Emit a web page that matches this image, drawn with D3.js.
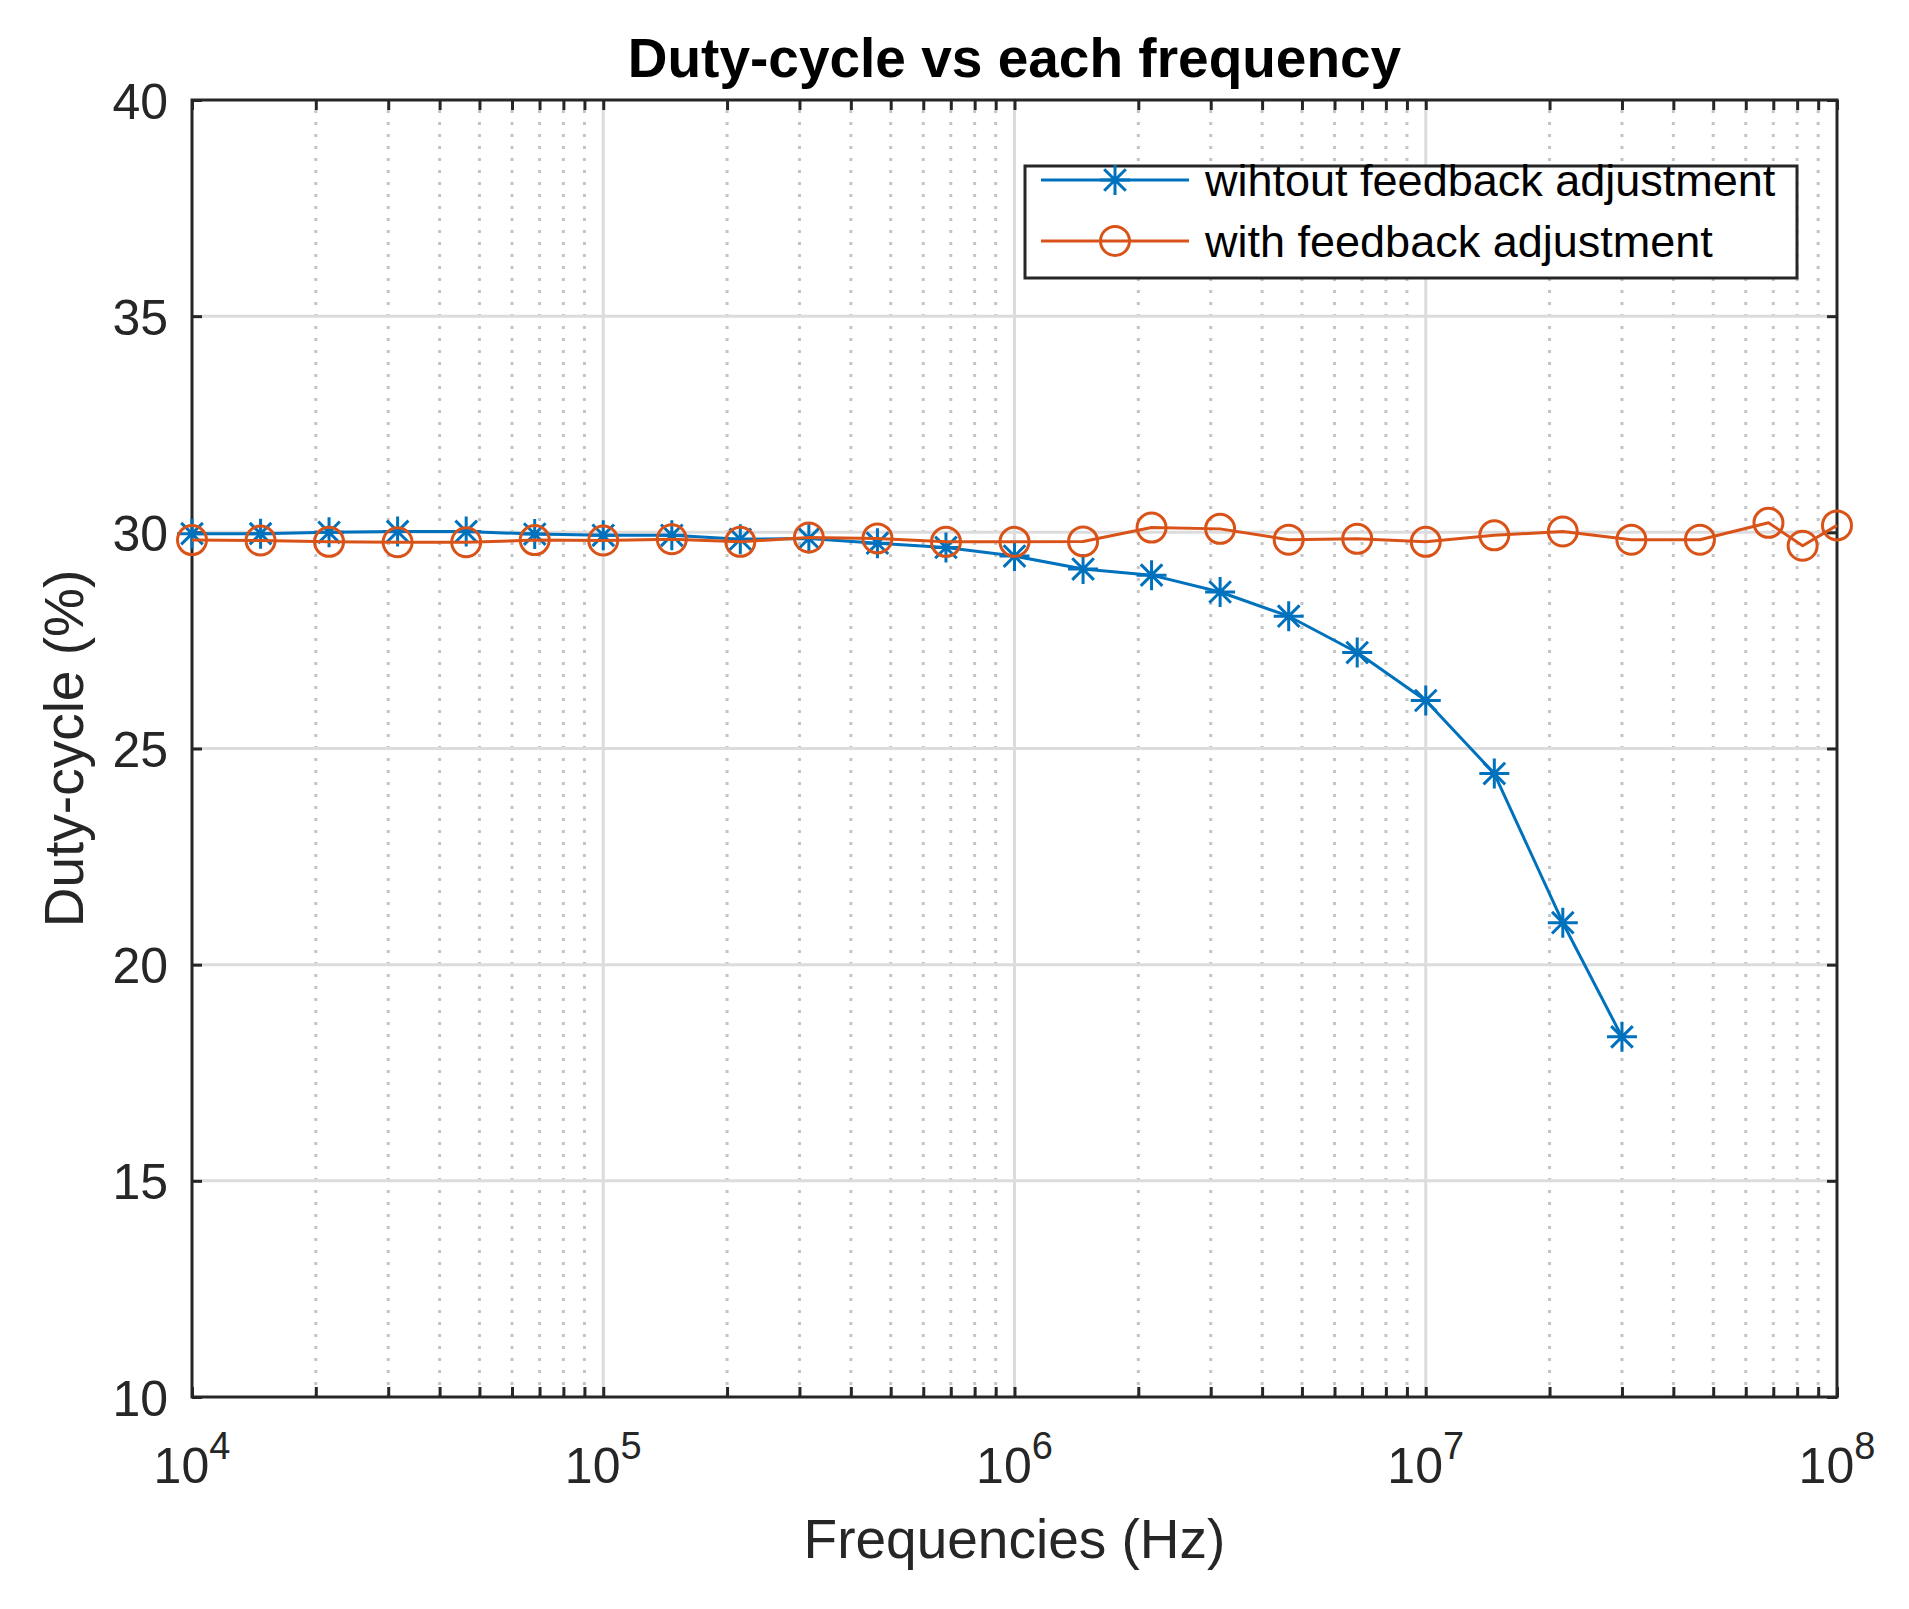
<!DOCTYPE html>
<html>
<head>
<meta charset="utf-8">
<script src="https://cdn.jsdelivr.net/npm/d3@7"></script>
<style>
  html, body { margin: 0; padding: 0; background: #fff; }
  text { font-family: "Liberation Sans", Arial, Helvetica, sans-serif; }
</style>
</head>
<body>
<svg id="chart" width="1909" height="1609"></svg>
<script>
// ---------------- data ----------------
const freqWithout = [1e4, 1.468e4, 2.154e4, 3.162e4, 4.642e4, 6.813e4,
                     1e5, 1.468e5, 2.154e5, 3.162e5, 4.642e5, 6.813e5,
                     1e6, 1.468e6, 2.154e6, 3.162e6, 4.642e6, 6.813e6,
                     1e7, 1.468e7, 2.154e7, 3e7];
const dutyWithout = [29.97, 29.97, 30.00, 30.02, 30.02, 29.96,
                     29.93, 29.93, 29.84, 29.86, 29.75, 29.65,
                     29.45, 29.15, 29.01, 28.62, 28.06, 27.22,
                     26.11, 24.42, 20.97, 18.33];

const freqWith = [1e4, 1.468e4, 2.154e4, 3.162e4, 4.642e4, 6.813e4,
                  1e5, 1.468e5, 2.154e5, 3.162e5, 4.642e5, 6.813e5,
                  1e6, 1.468e6, 2.154e6, 3.162e6, 4.642e6, 6.813e6,
                  1e7, 1.468e7, 2.154e7, 3.162e7, 4.642e7, 6.813e7,
                  8.25e7, 1e8];
const dutyWith = [29.82, 29.81, 29.78, 29.77, 29.77, 29.82,
                  29.81, 29.84, 29.78, 29.88, 29.86, 29.78,
                  29.78, 29.79, 30.11, 30.08, 29.83, 29.85,
                  29.78, 29.93, 30.02, 29.83, 29.83, 30.22,
                  29.69, 30.16];

const xMajorTicks = [1e4, 1e5, 1e6, 1e7, 1e8];
const xTickExponents = ["4", "5", "6", "7", "8"];
const yTicks = [10, 15, 20, 25, 30, 35, 40];
const seriesNames = ["wihtout feedback adjustment", "with feedback adjustment"];
const titleText = "Duty-cycle vs each frequency";
const xLabelText = "Frequencies (Hz)";
const yLabelText = "Duty-cycle (%)";

// ---------------- layout ----------------
const L = 192, R = 1837, T = 100, B = 1397;
const AX = "#262626", BLUE = "#0072BD", ORANGE = "#D95319";
const svg = d3.select("#chart");
svg.append("rect").attr("width", 1909).attr("height", 1609).attr("fill", "#fff");

const x = d3.scaleLog().domain([1e4, 1e8]).range([L, R]);
const y = d3.scaleLinear().domain([10, 40]).range([B, T]);

const allXTicks = x.ticks();  // 1..9 per decade
const xMinor = allXTicks.filter(v => !xMajorTicks.some(m => Math.abs(m - v) / m < 1e-9));

// ---------------- grid ----------------
const grid = svg.append("g");
grid.selectAll(".minor").data(xMinor).join("line")
  .attr("x1", d => x(d)).attr("x2", d => x(d))
  .attr("y1", T + 10).attr("y2", B)
  .attr("stroke", "#c4c4c4").attr("stroke-width", 3)
  .attr("stroke-dasharray", "3,9");
grid.selectAll(".majx").data(xMajorTicks.slice(1, -1)).join("line")
  .attr("x1", d => x(d)).attr("x2", d => x(d))
  .attr("y1", T).attr("y2", B)
  .attr("stroke", "#dcdcdc").attr("stroke-width", 3);
grid.selectAll(".majy").data(yTicks.slice(1, -1)).join("line")
  .attr("x1", L).attr("x2", R)
  .attr("y1", d => y(d)).attr("y2", d => y(d))
  .attr("stroke", "#dcdcdc").attr("stroke-width", 3);

// ---------------- axes (ticks inward) ----------------
function styleAxis(g) {
  g.select(".domain").remove();
  g.selectAll(".tick line").attr("stroke", AX).attr("stroke-width", 3);
}
svg.append("g").attr("transform", `translate(0,${B})`)
  .call(d3.axisBottom(x).tickValues(allXTicks).tickSize(-10).tickFormat(""))
  .call(styleAxis);
svg.append("g").attr("transform", `translate(0,${T})`)
  .call(d3.axisTop(x).tickValues(allXTicks).tickSize(-10).tickFormat(""))
  .call(styleAxis);
const yAx = svg.append("g").attr("transform", `translate(${L},0)`)
  .call(d3.axisLeft(y).tickValues(yTicks).tickSize(-10).tickPadding(24).tickFormat(d3.format("d")))
  .call(styleAxis);
yAx.selectAll(".tick text")
  .attr("fill", AX).attr("font-size", 50).attr("dy", "0.36em")
  .attr("font-family", "'Liberation Sans', Arial, sans-serif");
svg.append("g").attr("transform", `translate(${R},0)`)
  .call(d3.axisRight(y).tickValues(yTicks).tickSize(-10).tickFormat(""))
  .call(styleAxis);

// x tick labels with superscripts
const xl = svg.append("g");
xMajorTicks.forEach((v, i) => {
  const t = xl.append("text")
    .attr("x", x(v)).attr("y", 1483)
    .attr("text-anchor", "middle").attr("fill", AX).attr("font-size", 50);
  t.append("tspan").text("10");
  t.append("tspan").attr("dy", -24).attr("font-size", 38).text(xTickExponents[i]);
});

// box
svg.append("rect").attr("x", L).attr("y", T).attr("width", R - L).attr("height", B - T)
  .attr("fill", "none").attr("stroke", AX).attr("stroke-width", 3);

// ---------------- series ----------------
const lineGen = d3.line().x(d => x(d[0])).y(d => y(d[1]));
const blueData = freqWithout.map((f, i) => [f, dutyWithout[i]]);
const orangeData = freqWith.map((f, i) => [f, dutyWith[i]]);

function asterisk(g, cx, cy, r, color) {
  const d = r * 0.72;
  const p = `M${cx - r},${cy}L${cx + r},${cy}M${cx},${cy - r}L${cx},${cy + r}` +
            `M${cx - d},${cy - d}L${cx + d},${cy + d}M${cx - d},${cy + d}L${cx + d},${cy - d}`;
  g.append("path").attr("d", p).attr("stroke", color).attr("stroke-width", 3).attr("fill", "none");
}

const sBlue = svg.append("g");
sBlue.append("path").datum(blueData).attr("d", lineGen)
  .attr("fill", "none").attr("stroke", BLUE).attr("stroke-width", 3).attr("stroke-linejoin", "round");
blueData.forEach(d => asterisk(sBlue, x(d[0]), y(d[1]), 15, BLUE));

const sOr = svg.append("g");
sOr.append("path").datum(orangeData).attr("d", lineGen)
  .attr("fill", "none").attr("stroke", ORANGE).attr("stroke-width", 3).attr("stroke-linejoin", "round");
sOr.selectAll("circle").data(orangeData).join("circle")
  .attr("cx", d => x(d[0])).attr("cy", d => y(d[1])).attr("r", 14.5)
  .attr("fill", "none").attr("stroke", ORANGE).attr("stroke-width", 3);

// ---------------- legend ----------------
const lg = svg.append("g");
lg.append("rect").attr("x", 1025).attr("y", 166).attr("width", 772).attr("height", 112)
  .attr("fill", "#fff").attr("stroke", AX).attr("stroke-width", 3);
const rows = [180, 241];
[BLUE, ORANGE].forEach((c, i) => {
  lg.append("line").attr("x1", 1041).attr("x2", 1189).attr("y1", rows[i]).attr("y2", rows[i])
    .attr("stroke", c).attr("stroke-width", 3);
  if (i === 0) asterisk(lg, 1115, rows[i], 15, c);
  else lg.append("circle").attr("cx", 1115).attr("cy", rows[i]).attr("r", 14.5)
    .attr("fill", "none").attr("stroke", c).attr("stroke-width", 3);
  lg.append("text").attr("x", 1205).attr("y", rows[i] + 16)
    .attr("font-size", 45).attr("fill", "#000").text(seriesNames[i]);
});

// ---------------- titles ----------------
svg.append("text").attr("x", (L + R) / 2).attr("y", 77)
  .attr("text-anchor", "middle").attr("font-size", 55).attr("font-weight", "bold")
  .attr("fill", "#000").text(titleText);
svg.append("text").attr("x", (L + R) / 2).attr("y", 1558)
  .attr("text-anchor", "middle").attr("font-size", 55).attr("fill", AX).text(xLabelText);
svg.append("text").attr("transform", `translate(83,${(T + B) / 2}) rotate(-90)`)
  .attr("text-anchor", "middle").attr("font-size", 55).attr("fill", AX).text(yLabelText);
</script>
</body>
</html>
